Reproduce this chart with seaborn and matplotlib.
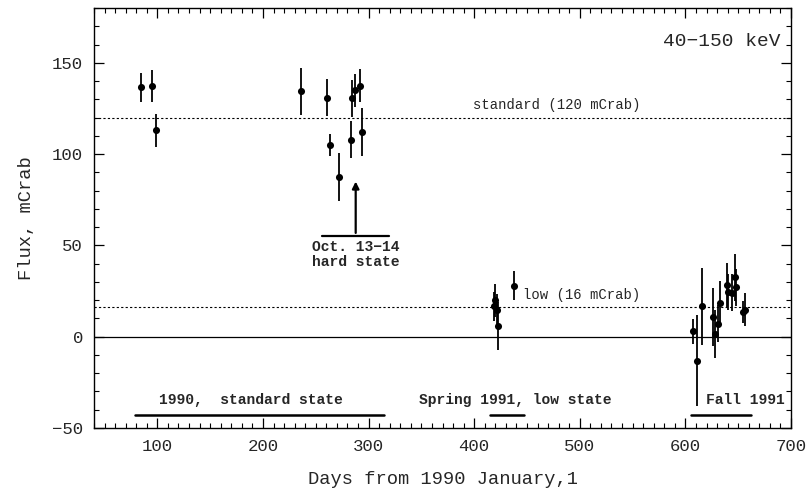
import matplotlib
matplotlib.use("Agg")
import matplotlib.pyplot as plt
import seaborn as sns
import pandas as pd
from matplotlib.ticker import MultipleLocator

# --- data ---
days = [84.2, 95.2, 98.9, 236.4, 260.4, 263.8, 272.4, 283.3, 284.3, 287.5, 292.2, 293.5,
        418.6, 419.9, 421.8, 423.0, 438.1,
        607.1, 611.2, 616.0, 626.6, 628.0, 631.1, 632.3, 639.3, 640.2, 644.3, 646.9, 648.1, 655.0, 656.3]
flux = [136.5, 137.3, 113.0, 134.3, 130.9, 105.1, 87.4, 107.9, 130.5, 134.9, 137.5, 112.1,
        16.6, 19.9, 14.4, 5.8, 27.9,
        2.9, -13.1, 16.6, 10.8, 1.6, 7.1, 18.4, 28.1, 24.5, 24.1, 32.5, 27.0, 13.5, 14.8]
err = [8, 9, 9, 13, 10, 6, 13, 10, 10, 9, 9, 13,
       8, 9, 9, 13, 8,
       7, 25, 21, 16, 13, 10, 12, 12, 10, 10, 13, 10, 6, 9]

standard_level = 120
low_level = 16
periods = ["1990,  standard state", "Spring 1991, low state", "Fall 1991"]
period_start = [79, 415, 605]
period_end = [315, 447, 662]
period_label_x = [189, 439, 657]

df = pd.DataFrame({"day": days, "flux": flux, "err": err})

sns.set_theme(style="ticks")
plt.rcParams["font.family"] = ["Liberation Mono", "DejaVu Sans"]

fig = plt.figure(figsize=(8.06, 4.94), dpi=100)
ax = fig.add_axes([94/806, 66/494, 697/806, 420/494])

ax.errorbar(df["day"], df["flux"], yerr=df["err"], fmt="none", ecolor="black",
            elinewidth=1.3, capsize=0, zorder=2)
sns.scatterplot(data=df, x="day", y="flux", color="black", s=26, edgecolor="black",
                linewidth=0, ax=ax, zorder=3)

ax.axhline(0, color="black", lw=0.9)
ax.axhline(standard_level, color="black", lw=0.8, ls=(0, (2, 2)))
ax.axhline(low_level, color="black", lw=0.8, ls=(0, (2, 2)))
ax.text(478, standard_level + 3, "standard (120 mCrab)", ha="center", va="bottom", fontsize=10)
ax.text(502, low_level + 3, "low (16 mCrab)", ha="center", va="bottom", fontsize=10)

# period bars
for name, s, e, lx in zip(periods, period_start, period_end, period_label_x):
    ax.plot([s, e], [-43, -43], color="black", lw=1.8)
    ax.text(lx, -37, name, ha="center", va="baseline", fontsize=10.5, fontweight="bold")

# Oct 13-14 arrow
ax.annotate("", xy=(287.8, 86.5), xytext=(287.8, 55.3),
            arrowprops=dict(arrowstyle="-|>", color="black", lw=1.6, mutation_scale=10))
ax.plot([256, 319], [55.3, 55.3], color="black", lw=1.6)
ax.text(288, 53, "Oct. 13\u221214\nhard state", ha="center", va="top", fontsize=10.5,
        fontweight="bold", linespacing=1.1)

ax.text(0.985, 0.94, "40\u2212150 keV", transform=ax.transAxes, ha="right", va="top", fontsize=14)

ax.set_xlim(40, 700)
ax.set_ylim(-50, 180)
ax.xaxis.set_major_locator(MultipleLocator(100))
ax.xaxis.set_minor_locator(MultipleLocator(10))
ax.yaxis.set_major_locator(MultipleLocator(50))
ax.yaxis.set_minor_locator(MultipleLocator(10))
ax.tick_params(which="both", direction="in", top=True, right=True, color="black")
ax.tick_params(which="major", length=7, width=0.9, labelsize=12.5, pad=8)
ax.tick_params(which="minor", length=3.5, width=0.8)
ax.set_yticks([-50, 0, 50, 100, 150])
ax.set_yticklabels(["\u221250", "0", "50", "100", "150"])
for sp in ax.spines.values():
    sp.set_color("black")
    sp.set_linewidth(1.0)

ax.set_xlabel("Days from 1990 January,1", fontsize=13.5, labelpad=12)
ax.set_ylabel("Flux, mCrab", fontsize=13.5, labelpad=12)

fig.savefig("out.png", dpi=100)
